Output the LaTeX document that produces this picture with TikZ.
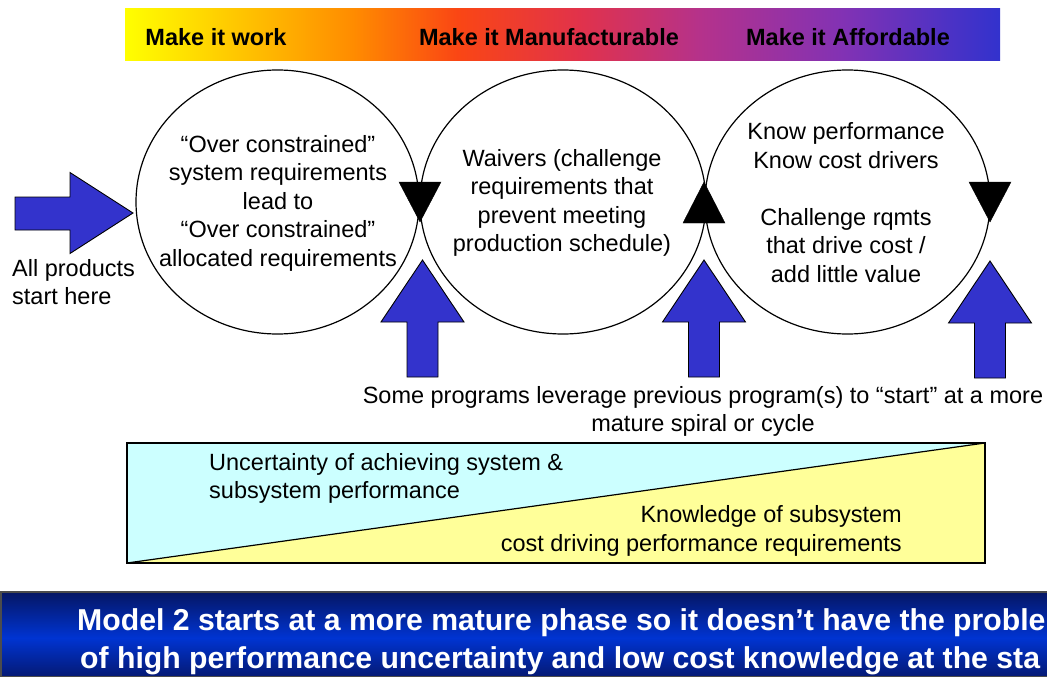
\documentclass[tikz,border=0pt]{standalone}
\usepackage{fontspec}
\setmainfont{Liberation Sans}
\definecolor{arrowblue}{RGB}{51,51,204}
\definecolor{lightcyan}{RGB}{204,255,255}
\definecolor{lightyellow}{RGB}{255,255,153}
\definecolor{navydark}{RGB}{5,22,100}
\definecolor{navybot}{RGB}{5,25,115}
\definecolor{navymid}{RGB}{0,52,210}
\definecolor{bar0}{RGB}{255,255,0}
\definecolor{bar1}{RGB}{255,140,0}
\definecolor{bar2}{RGB}{250,70,20}
\definecolor{bar3}{RGB}{225,50,75}
\definecolor{bar4}{RGB}{180,50,140}
\definecolor{bar5}{RGB}{130,50,180}
\definecolor{bar6}{RGB}{50,50,205}
\pgfdeclarehorizontalshading{topbar}{100bp}{%
  color(0bp)=(bar0);
  color(25bp)=(bar0);
  color(38bp)=(bar1);
  color(44bp)=(bar2);
  color(51bp)=(bar3);
  color(58bp)=(bar4);
  color(66bp)=(bar5);
  color(75bp)=(bar6);
  color(100bp)=(bar6)}
\pgfdeclareverticalshading{botbar}{100bp}{%
  color(0bp)=(navybot);
  color(25bp)=(navybot);
  color(48bp)=(navymid);
  color(75bp)=(navydark);
  color(100bp)=(navydark)}
\tikzset{
  body/.style={font=\fontsize{23.5}{28.5}\selectfont, inner sep=0pt},
  ring/.style={draw=black, line width=1.2pt},
  bluearrow/.style={draw=black, line width=0.9pt, fill=arrowblue},
  mark tri/.style={fill=black, draw=black},
  bartext/.style={font=\bfseries\fontsize{23.5}{28}\selectfont, inner sep=0pt},
  msgtext/.style={font=\bfseries\fontsize{30.2}{38}\selectfont, text=white, inner sep=0pt, anchor=base west},
  uparrow/.pic={\draw[bluearrow] (-15.5,117) -- (-15.5,62) -- (-41.5,62) -- (0,0) -- (41.5,62) -- (15.5,62) -- (15.5,117) -- cycle;},
}
\begin{document}
\begin{tikzpicture}[x=1pt,y=-1pt]
\useasboundingbox (0,0) rectangle (1047,677);
\clip (0,0) rectangle (1047,677);

% top gradient bar
\shade[shading=topbar] (125,9) rectangle (1000,61);
\node[bartext] (t1) at (216,37) {Make it work};
\node[bartext] (t2) at (549,37) {Make it Manufacturable};
\node[bartext] (t3) at (848,37) {Make it Affordable};

% circles
\draw[ring] (277.5,202) ellipse [x radius=141.5, y radius=132];
\draw[ring] (563,202) ellipse [x radius=143, y radius=132];
\draw[ring] (847.5,202) ellipse [x radius=142.5, y radius=132];

\node[body, align=center] (c1) at (278,203) {“Over constrained”\\system requirements\\lead to\\“Over constrained”\\allocated requirements};
\node[body, align=center] (c2) at (562,203) {Waivers (challenge\\requirements that\\prevent meeting\\production schedule)};
\node[body, align=center] (c3) at (846,202.5) {Know performance\\Know cost drivers\\[28.5pt]Challenge rqmts\\that drive cost /\\add little value};

% triangles on circles
\fill[mark tri] (399,182) -- (441,182) -- (420,222) -- cycle;
\fill[mark tri] (683,223) -- (725,223) -- (704,182) -- cycle;
\fill[mark tri] (969,182) -- (1011,182) -- (990,222) -- cycle;

% left arrow
\draw[bluearrow] (15,197) -- (70,197) -- (70,172.5) -- (133,213) -- (70,253.5) -- (70,230) -- (15,230) -- cycle;
\node[body, align=left, anchor=west] (start) at (12,282) {All products\\start here};

% up arrows
\pic at (422.5,260) {uparrow};
\pic at (704,260) {uparrow};
\pic at (990,261) {uparrow};

\node[body, align=center] (lev) at (703,411.5) {Some programs leverage previous program(s) to “start” at a more\\mature spiral or cycle};

% triangle box
\fill[lightcyan] (127,443) -- (985,443) -- (127,563) -- cycle;
\fill[lightyellow] (985,443) -- (985,563) -- (127,563) -- cycle;
\draw[line width=1.2pt] (127,443) rectangle (985,563);
\draw[line width=1.2pt] (127,563) -- (985,443);
\node[body, align=left, anchor=west] (unc) at (209,478.5) {Uncertainty of achieving system \&\\subsystem performance};
\node[body, align=right, anchor=east] (know) at (902,531) {Knowledge of subsystem\\cost driving performance requirements};

% bottom banner
\shade[shading=botbar, draw=black!70, line width=1.5pt] (1,592) rectangle (1100,677);
\node[msgtext] (msg1) at (77,630) {Model 2 starts at a more mature phase so it doesn’t have the proble};
\node[msgtext] (msg2) at (80,668) {of high performance uncertainty and low cost knowledge at the sta};
\end{tikzpicture}
\end{document}
